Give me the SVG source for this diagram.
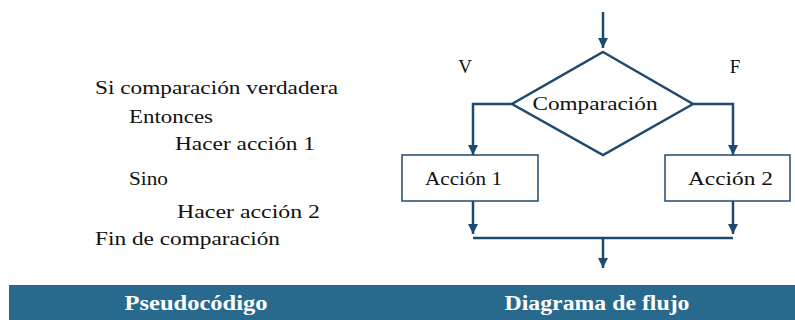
<svg xmlns="http://www.w3.org/2000/svg" width="795" height="320" viewBox="0 0 795 320">
<style>
.t{font-family:'Liberation Serif','DejaVu Serif',serif;font-size:19px;fill:#111;}
.c{stroke:#1f4a6e;stroke-width:2.5;fill:none;}
.b{stroke:#1f4a6e;stroke-width:1.5;fill:#fff;}
.h{font-family:'Liberation Serif','DejaVu Serif',serif;font-size:20px;font-weight:bold;fill:#fff;}
</style>
<defs>
<marker id="ah" viewBox="0 0 10 10" refX="10" refY="5" markerWidth="10" markerHeight="14" orient="auto" markerUnits="userSpaceOnUse">
<path d="M0,0 L10,5 L0,10 z" fill="#1f4a6e"/>
</marker>
</defs>
<rect x="0" y="0" width="795" height="320" fill="#fff"/>
<g id="pseudocodigo">
<text class="t" x="95" y="94" textLength="243" lengthAdjust="spacingAndGlyphs">Si comparación verdadera</text>
<text class="t" x="129" y="123" textLength="84" lengthAdjust="spacingAndGlyphs">Entonces</text>
<text class="t" x="175" y="150" textLength="140" lengthAdjust="spacingAndGlyphs">Hacer acción 1</text>
<text class="t" x="129" y="185" textLength="39" lengthAdjust="spacingAndGlyphs">Sino</text>
<text class="t" x="177" y="218" textLength="143" lengthAdjust="spacingAndGlyphs">Hacer acción 2</text>
<text class="t" x="95" y="245" textLength="185" lengthAdjust="spacingAndGlyphs">Fin de comparación</text>
</g>
<g id="connectors">
<line class="c" x1="603" y1="12" x2="603" y2="48" marker-end="url(#ah)"/>
<polyline class="c" points="512,104 473,104 473,155" marker-end="url(#ah)"/>
<polyline class="c" points="693,104 733,104 733,155" marker-end="url(#ah)"/>
<line class="c" x1="473" y1="201" x2="473" y2="234" marker-end="url(#ah)"/>
<line class="c" x1="733" y1="201" x2="733" y2="234" marker-end="url(#ah)"/>
<line class="c" x1="473" y1="238" x2="733" y2="238"/>
<line class="c" x1="603" y1="238" x2="603" y2="268" marker-end="url(#ah)"/>
</g>
<g id="label-v"><text class="t" x="465" y="73" text-anchor="middle">V</text></g>
<g id="label-f"><text class="t" x="735" y="73" text-anchor="middle">F</text></g>
<g id="comparacion">
<polygon points="603,52 693,104 603,155 512,104" fill="#fff" stroke="#1f4a6e" stroke-width="2.5"/>
<text class="t" x="595" y="110" text-anchor="middle" textLength="125" lengthAdjust="spacingAndGlyphs">Comparación</text>
</g>
<g id="accion1">
<rect class="b" x="402" y="155" width="136" height="46"/>
<text class="t" x="425" y="185" textLength="77" lengthAdjust="spacingAndGlyphs">Acción  1</text>
</g>
<g id="accion2">
<rect class="b" x="665" y="155" width="125" height="46"/>
<text class="t" x="688" y="185" textLength="85" lengthAdjust="spacingAndGlyphs">Acción 2</text>
</g>
<g id="banner">
<rect x="9" y="285" width="786" height="35" fill="#276a8d"/>
<text class="h" x="196" y="310" text-anchor="middle" textLength="143" lengthAdjust="spacingAndGlyphs">Pseudocódigo</text>
<text class="h" x="597" y="310" text-anchor="middle" textLength="185" lengthAdjust="spacingAndGlyphs">Diagrama de flujo</text>
</g>
</svg>
